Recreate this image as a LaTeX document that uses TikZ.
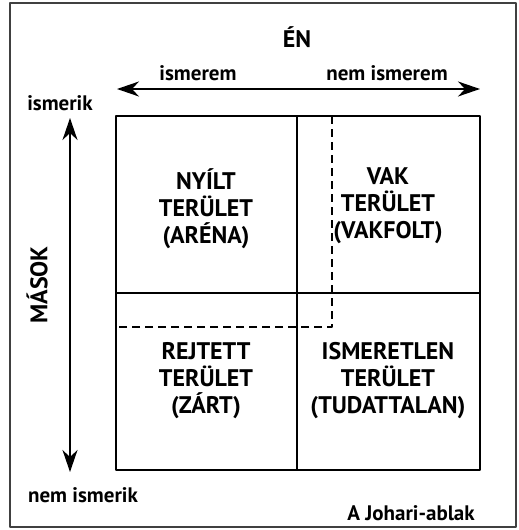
\documentclass[tikz,border=0pt]{standalone}
\usepackage{fontspec}
\setmainfont{PT Sans}
\usetikzlibrary{arrows.meta}
\begin{document}
\begin{tikzpicture}[x=1pt,y=-1pt,font=\bfseries\fontsize{24}{27}\selectfont, line join=round, >={Stealth[length=22pt,width=15pt,inset=7pt]},
	grid/.style={line width=1.2pt},
	axis/.style={<->, line width=2pt},
	lbl/.style={anchor=base, font=\bfseries\fontsize{21}{24}\selectfont}]
	\useasboundingbox (0,0) rectangle (519,530);
	\draw[line width=1.2pt, black!75] (10,3) rectangle (516,527);
	\coordinate (NW) at (116,116);
	\coordinate (NE) at (480,116);
	\coordinate (SW) at (116,470);
	\coordinate (SE) at (480,470);
	\coordinate (M) at (297,293);
	\coordinate (D) at (332,327);
	\draw[grid] (NW) rectangle (SE);
	\draw[grid] (NW -| M) -- (SW -| M) (NW |- M) -- (NE |- M);
	\draw[line width=2pt, dash pattern=on 8pt off 5pt] (NW -| D) -- (D) -- (NW |- D);
	% axes
	\coordinate (HL) at (117,89);
	\coordinate (HR) at (480,89);
	\coordinate (VT) at (70,118);
	\coordinate (VB) at (70,472);
	\draw[axis] (HL) -- (HR);
	\draw[axis] (VT) -- (VB);
	\node[anchor=base] (en) at (297,47) {ÉN};
	\node[lbl] (ismerem) at (198,80) {ismerem};
	\node[lbl] (nemismerem) at (387,80) {nem ismerem};
	\node[lbl] (ismerik) at (60,110) {ismerik};
	\node[lbl] (nemismerik) at (83,502) {nem ismerik};
	\node[rotate=90] (masok) at (37,285) {MÁSOK};
	\node[lbl] (cim) at (411,520) {A Johari-ablak};
	% cells
	\node[align=center] (nyilt) at (206,209) {NYÍLT\\TERÜLET\\(ARÉNA)};
	\node[align=center] (vak) at (388,206) {VAK\\TERÜLET\\(VAKFOLT)};
	\node[align=center] (rejtett) at (206,381) {REJTETT\\TERÜLET\\(ZÁRT)};
	\node[align=center] (ismeretlen) at (388,381) {ISMERETLEN\\TERÜLET\\(TUDATTALAN)};
\end{tikzpicture}
\end{document}
